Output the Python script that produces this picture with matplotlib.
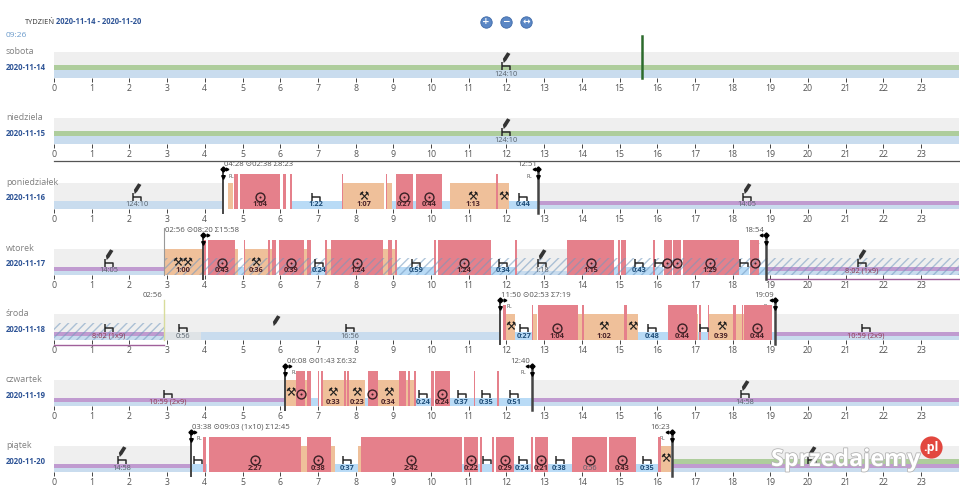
import matplotlib
matplotlib.use('Agg')
import matplotlib.pyplot as plt
import matplotlib.patheffects as pe
from matplotlib.path import Path

plt.rcParams['font.family'] = ['Open Sans', 'DejaVu Sans']
plt.rcParams['hatch.linewidth'] = 1.0

GREY = '#efefef'
BASE = '#c9dcee'
REST = '#b9dbf6'
PURPLE = '#c09bd0'
GREEN = '#aecd9c'
RED = '#e5808b'
ORANGE = '#efc09a'
NAVY = '#2f5597'

day_names = ['sobota', 'niedziela', 'poniedziałek', 'wtorek', 'środa', 'czwartek', 'piątek']
day_dates = ['2020-11-14', '2020-11-15', '2020-11-16', '2020-11-17', '2020-11-18', '2020-11-19', '2020-11-20']
baselines = [78, 144, 209, 275, 340, 406, 472]   # pixel row of each timeline's foot

# idle stretches, start and end hour
sat_idle = [(0, 24)]
sun_idle = [(0, 24)]
mon_idle = [(0, 4.47), (12.85, 24)]
tue_idle = [(0, 2.93), (12.28, 13.6), (18.88, 24)]
wed_idle = [(0, 11.83), (19.13, 24)]
thu_idle = [(0, 6.13), (12.67, 24)]
fri_idle = [(0, 3.63), (16.38, 24)]

# taller pale blue under long idle stretches
mon_low = [(0, 4.47)]
wed_low = [(3.9, 11.83)]
wed_dim = [(2.93, 3.9)]

sat_green = [(0, 24)]
sun_green = [(0, 24)]
fri_green = [(16.38, 24)]

mon_purple = [(12.85, 24)]
tue_purple = [(0, 2.93), (18.88, 24)]
wed_purple = [(0, 2.93), (19.13, 24)]
thu_purple = [(0, 6.13), (12.67, 24)]
fri_purple = [(0, 3.63), (16.38, 24)]

tue_hatch = [(2.93, 24)]
wed_hatch = [(0, 2.93)]

mon_rest = [(6.3, 7.64), (8.96, 9.07), (9.51, 9.6), (10.3, 10.5), (12.08, 12.85)]
mon_orange = [(4.62, 4.75), (7.67, 8.76), (8.84, 8.96), (10.5, 11.72), (11.79, 12.08)]
mon_red = [(4.77, 4.88), (4.93, 6.0), (6.08, 6.15), (6.27, 6.3), (7.64, 7.67), (8.8, 8.83),
           (9.07, 9.51), (9.59, 10.3), (11.72, 11.79)]

tue_rest = [(4.87, 5.05), (6.82, 7.2), (9.1, 10.08), (11.6, 12.25), (14.85, 14.97), (15.16, 15.9),
            (15.93, 16.15), (18.17, 18.44), (18.71, 18.88)]
tue_orange = [(2.93, 3.96), (4.81, 4.87), (5.07, 5.67), (5.72, 5.78), (6.63, 6.7), (7.25, 7.35),
              (8.74, 8.87), (8.96, 9.06)]
tue_red = [(3.98, 4.03), (4.08, 4.81), (5.05, 5.07), (5.67, 5.72), (5.78, 5.89), (5.97, 6.63),
           (6.7, 6.82), (7.2, 7.24), (7.35, 8.74), (8.87, 8.96), (9.05, 9.1), (10.09, 10.14),
           (10.18, 11.59), (12.24, 12.28), (13.6, 14.85), (14.97, 15.01), (15.05, 15.16),
           (15.9, 15.93), (16.17, 16.39), (16.43, 16.64), (16.68, 18.17), (18.45, 18.71)]

wed_rest = [(12.24, 12.69), (15.48, 16.29), (17.08, 17.12), (17.15, 17.36), (19.05, 19.13)]
wed_orange = [(11.98, 12.24), (12.71, 12.82), (13.89, 14.0), (14.06, 15.11), (15.21, 15.48),
              (17.06, 17.08), (17.38, 18.02), (18.08, 18.24), (18.28, 18.3)]
wed_red = [(11.92, 11.98), (12.69, 12.71), (12.83, 13.89), (14.0, 14.06), (15.11, 15.21),
           (16.29, 17.06), (17.12, 17.15), (17.36, 17.38), (18.02, 18.08), (18.24, 18.28), (18.3, 19.05)]

thu_rest = [(6.81, 7.0), (8.24, 8.32), (9.59, 9.99), (10.5, 11.14), (11.18, 11.76), (11.8, 12.67)]
thu_orange = [(6.15, 6.41), (6.66, 6.71), (7.13, 7.69), (7.74, 7.78), (7.83, 8.24), (8.6, 9.16),
              (9.33, 9.4), (9.44, 9.55)]
thu_red = [(6.41, 6.66), (6.71, 6.81), (7.0, 7.03), (7.07, 7.13), (7.69, 7.74), (7.78, 7.83),
           (8.32, 8.6), (9.16, 9.33), (9.4, 9.44), (9.55, 9.59), (9.99, 10.07), (10.11, 10.5),
           (11.14, 11.18), (11.76, 11.8)]

fri_rest = [(3.63, 3.94), (4.03, 4.07), (7.45, 8.07), (10.83, 10.88), (11.24, 11.31), (11.36, 11.62),
            (12.21, 12.65), (13.11, 13.75), (15.45, 16.03)]
fri_orange = [(6.55, 6.71), (7.35, 7.45), (8.07, 8.13), (16.1, 16.37)]
fri_red = [(3.94, 4.03), (4.12, 6.55), (6.71, 7.35), (8.14, 10.83), (10.88, 11.24), (11.31, 11.36),
           (11.62, 11.68), (11.72, 12.21), (12.65, 12.7), (12.76, 13.11), (13.75, 14.68), (14.73, 15.45),
           (16.03, 16.1)]

# hour, icon, duration text. B bed, P bed + pencil, T target, H hammers, HH two hammers
sat_marks = [(12.0, 'P', '124:10')]
sun_marks = [(12.0, 'P', '124:10')]
mon_marks = [(2.19, 'P', '124:10'), (5.46, 'T', '1:04'), (6.95, 'B', '1:22'), (8.22, 'H', '1:07'),
             (9.29, 'T', '0:27'), (9.94, 'T', '0:44'), (11.1, 'H', '1:13'), (11.92, 'H', ''),
             (12.44, 'B', '0:44'), (18.38, 'P', '14:05')]
tue_marks = [(1.46, 'P', '14:05'), (3.42, 'HH', '1:00'), (4.46, 'T', '0:43'), (5.35, 'H', '0:36'),
             (6.29, 'T', '0:39'), (7.03, 'B', '0:24'), (8.05, 'T', '1:24'), (9.6, 'B', '0:59'),
             (10.87, 'T', '1:24'), (11.91, 'B', '0:34'), (12.94, 'P', '1:18'), (14.24, 'T', '1:15'),
             (15.52, 'B', '0:43'), (16.04, 'B', ''), (16.27, 'T', ''), (16.53, 'T', ''), (17.41, 'T', '1:29'),
             (18.3, 'B', ''), (18.59, 'T', ''), (21.42, 'P', '8:02 (1x9)')]
wed_marks = [(1.46, 'B', '8:02 (1x9)'), (3.41, 'B', '0:56'), (7.85, 'B', '16:56'), (12.1, 'H', ''),
             (12.46, 'B', '0:27'), (13.35, 'T', '1:04'), (14.59, 'H', '1:02'), (15.35, 'H', ''),
             (15.87, 'B', '0:48'), (16.65, 'T', '0:44'), (17.25, 'B', ''), (17.7, 'H', '0:39'),
             (18.66, 'T', '0:44'), (21.54, 'B', '10:59 (2x9)')]
thu_marks = [(3.02, 'B', '10:59 (2x9)'), (6.28, 'H', ''), (6.55, 'T', ''), (7.4, 'H', '0:33'),
             (8.03, 'H', '0:23'), (8.44, 'T', ''), (8.87, 'H', '0:34'), (9.79, 'B', '0:24'),
             (10.3, 'T', '0:24'), (10.81, 'B', '0:37'), (11.46, 'B', '0:35'), (12.2, 'B', '0:51'),
             (18.33, 'P', '14:58')]
fri_marks = [(1.8, 'P', '14:58'), (3.82, 'B', ''), (5.33, 'T', '2:27'), (7.01, 'T', '0:38'),
             (7.77, 'B', '0:37'), (9.47, 'T', '2:42'), (11.06, 'T', '0:22'), (11.49, 'B', ''),
             (11.96, 'T', '0:29'), (12.43, 'B', '0:24'), (12.93, 'T', '0:21'), (13.41, 'B', '0:38'),
             (14.22, 'T', '0:56'), (15.07, 'T', '0:43'), (15.72, 'B', '0:35'), (16.22, 'H', ''),
             (20.1, 'P', '')]

# start / end of shift: hour, clock text, summary text
mon_shift = [(4.47, '04:28', ' ⊙02:38 Σ8:23'), (12.85, '12:51', '')]
tue_shift = [(3.96, '', ''), (18.88, '18:54', '')]
wed_shift = [(11.83, '11:50', ' ⊙02:53 Σ7:19'), (19.13, '19:09', '')]
thu_shift = [(6.13, '06:08', ' ⊙01:43 Σ6:32'), (12.67, '12:40', '')]
fri_shift = [(3.63, '03:38', ' ⊙09:03 (1x10) Σ12:45'), (16.38, '16:23', '')]

idle = [sat_idle, sun_idle, mon_idle, tue_idle, wed_idle, thu_idle, fri_idle]
low = [sat_idle, sun_idle, mon_low, [], wed_low, [], []]
green = [sat_green, sun_green, [], [], [], [], fri_green]
purple = [[], [], mon_purple, tue_purple, wed_purple, thu_purple, fri_purple]
hatched = [[], [], [], tue_hatch, wed_hatch, [], []]
rest = [[], [], mon_rest, tue_rest, wed_rest, thu_rest, fri_rest]
orange = [[], [], mon_orange, tue_orange, wed_orange, thu_orange, fri_orange]
red = [[], [], mon_red, tue_red, wed_red, thu_red, fri_red]
marks = [sat_marks, sun_marks, mon_marks, tue_marks, wed_marks, thu_marks, fri_marks]
shifts = [[], [], mon_shift, tue_shift, wed_shift, thu_shift, fri_shift]

bed = Path([(-3, 3), (-3, -2.5), (-3, 0), (3, 0), (3, -2.5)],
           [Path.MOVETO, Path.LINETO, Path.MOVETO, Path.LINETO, Path.LINETO])
pencil = Path([(-1.7, -3.4), (-2.2, -0.8), (0.4, 3.2), (2.4, 2.2), (-0.1, -1.8), (-1.7, -3.4)],
              [Path.MOVETO, Path.LINETO, Path.LINETO, Path.LINETO, Path.LINETO, Path.CLOSEPOLY])

W, H = 960, 492
PX_HOUR = 37.7
LEFT = 54
fig = plt.figure(figsize=(W / 100, H / 100), dpi=100)


def spans(ax, items, y0, h, color, z=1):
    if items:
        bars = [(a, b - a) for a, b in items]
        ax.broken_barh(bars, (y0, h), facecolors=color, linewidth=0, zorder=z)


def draw_mark(ax, hour, kind, text):
    if kind in ('B', 'P'):
        ax.plot(hour, 12, marker=bed, ms=6.4, mew=1.1, mec='#2b2b2b', fillstyle='none', zorder=6)
    if kind == 'P':
        ax.plot(hour, 21, marker=pencil, ms=8, mew=0, mfc='#333333', zorder=6)
    if kind == 'T':
        ax.plot(hour, 12.5, 'o', ms=6.4, mew=1.0, mec='#3a2025', mfc='none', zorder=6)
        ax.plot(hour, 12.5, 'o', ms=1.5, mew=0, mfc='#3a2025', zorder=6)
    if kind in ('H', 'HH'):
        ax.text(hour, 13, '⚒' * len(kind), fontsize=8.5, ha='center', va='center', color='#1c1c1c', zorder=6,
                family='DejaVu Sans')
    if text:
        col, weight = '#4a2228', 'bold'
        if kind == 'P' or text in ('0:56', '16:56'):
            col, weight = '#55606a', 'normal'
        if kind == 'B' and text not in ('0:56', '16:56'):
            col = '#1f4e79'
        if '(' in text:
            col, weight = '#8a3a50', 'normal'
        ax.text(hour, 4, text, fontsize=5.3, ha='center', va='center', color=col, fontweight=weight, zorder=7)


def draw_shift(ax, hour, clock, summary, first):
    ax.plot([hour, hour], [-4, 40], color='#444444', lw=1.4 if first else 1.8, zorder=5, clip_on=False)
    ax.plot(hour, 40, 'D', ms=2.6, color='black', zorder=6, clip_on=False)
    ax.plot(hour, 32, 'v', ms=2.6, color='black', zorder=6, clip_on=False)
    ax.plot(hour + (0.12 if first else -0.12), 40, '>' if first else '<', ms=2, color='black', zorder=6, clip_on=False)
    off = 0.16 if first else -0.16
    ax.text(hour + off, 33, 'PL', fontsize=3.6, ha='left' if first else 'right', va='center', color='#444444')
    if first and clock:
        ax.text(hour + 0.04, 44.5, clock + summary, fontsize=5.6, ha='left', va='center', color='#555555')
    elif clock:
        ax.text(hour - 0.03, 44.5, clock, fontsize=5.6, ha='right', va='center', color='#555555')


for i, foot in enumerate(baselines):
    ax = fig.add_axes([LEFT / W, 1 - foot / H, 24 * PX_HOUR / W, 36 / H])
    ax.set_xlim(0, 24)
    ax.set_ylim(0, 36)
    ax.patch.set_visible(False)
    for s in ax.spines.values():
        s.set_visible(False)
    ax.set_yticks([])
    ax.set_xticks(range(24))
    ax.tick_params(axis='x', length=3.2, width=0.7, color='#444444', labelsize=6.3, labelcolor='#555555', pad=1.2)

    spans(ax, idle[i], 0, 26, GREY)
    spans(ax, idle[i], 0, 4, BASE, 2)
    spans(ax, low[i], 0, 8, BASE, 2)
    if i == 4:
        spans(ax, wed_dim, 0, 8, '#dfe3e6', 3)
    spans(ax, rest[i], 0, 8, REST, 3)
    spans(ax, orange[i], 0, 26, ORANGE, 3)
    spans(ax, red[i], 0, 35, RED, 4)
    spans(ax, green[i], 8, 5, GREEN, 3)
    spans(ax, purple[i], 4, 4.5, PURPLE, 3)
    for start, end in hatched[i]:
        ax.bar(start, 17.5, end - start, align='edge', facecolor='none', edgecolor=(0.45, 0.6, 0.75, 0.55),
               linewidth=0, hatch='////', zorder=4.5)

    for hour, kind, text in marks[i]:
        draw_mark(ax, hour, kind, text)
    for j, (hour, clock, summary) in enumerate(shifts[i]):
        draw_shift(ax, hour, clock, summary, j == 0)

    if i == 0:
        ax.plot([15.6, 15.6], [0, 42], color='#2c6b2c', lw=1.8, zorder=6, clip_on=False)
    if i == 2:
        ax.plot([0, 24], [48, 48], color='#555555', lw=0.9, clip_on=False)
    if i == 3:
        ax.plot([2.93, 2.93], [0, 47], color='#999999', lw=0.8, zorder=5, clip_on=False)
        ax.text(2.95, 44.5, '02:56 ⊙08:20 Σ15:58', fontsize=5.6, ha='left', va='center', color='#555555')
        ax.plot([18.88, 24], [-4, -4], color='#a0609a', lw=1.0, clip_on=False)
    if i == 4:
        ax.plot([2.93, 2.93], [0, 40], color='#d8dc9c', lw=1.0, zorder=5, clip_on=False)
        ax.text(2.87, 44.5, '02:56', fontsize=5.6, ha='right', va='center', color='#555555')
        ax.plot([0, 2.93], [-5, -5], color='#a0609a', lw=1.0, clip_on=False)
        ax.plot(5.9, 20, marker=pencil, ms=8, mew=0, mfc='#333333', zorder=6)

over = fig.add_axes([0, 0, 1, 1], zorder=10)
over.set_xlim(0, W)
over.set_ylim(H, 0)
over.axis('off')

over.text(25, 22, 'TYDZIEŃ', fontsize=5.4, color='#333333', va='center')
over.text(56, 22, '2020-11-14 - 2020-11-20', fontsize=5.5, fontweight='bold', color=NAVY, va='center')
over.text(6, 35.5, '09:26', fontsize=6, color='#6a9acb', va='center')

for i, foot in enumerate(baselines):
    over.text(6, foot - 26.5, day_names[i], fontsize=6.4, color='#808080', va='center')
    over.text(6, foot - 11, day_dates[i], fontsize=5.6, fontweight='bold', color=NAVY, va='center')

for x, sign in zip([486, 506, 526], ['+', '−', '↔']):
    over.plot(x, 22, 'o', ms=8.2, mfc='#5b87c5', mec='#3f6aa8', mew=0.6)
    over.text(x, 21.6, sign, fontsize=6.5, fontweight='bold', color='white', ha='center', va='center',
              family='DejaVu Sans')

over.text(771, 460, 'Sprzedajemy', fontsize=16.8, fontweight='bold', color='white', va='center', family='Open Sans',
          path_effects=[pe.withStroke(linewidth=1.2, foreground='#b5b5b5')])
over.plot(931, 447, 'o', ms=16, mfc='#e2473f', mew=0)
over.text(931, 447, '.pl', fontsize=9, fontweight='bold', color='white', ha='center', va='center')

fig.savefig('out.png', dpi=100)
